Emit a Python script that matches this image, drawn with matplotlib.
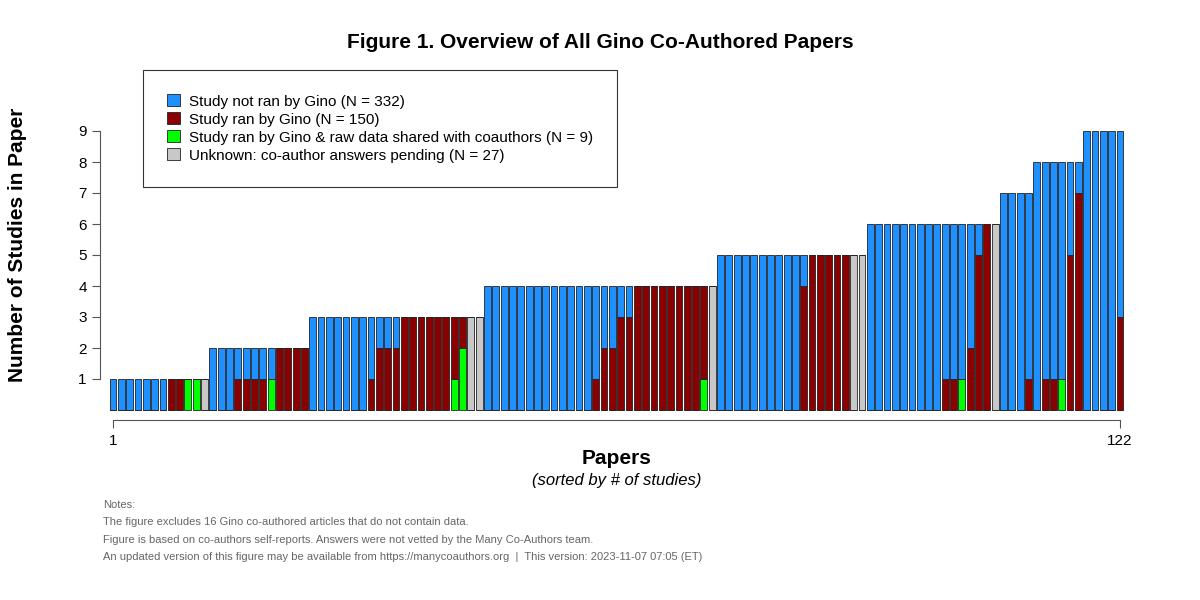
import matplotlib
matplotlib.use("Agg")
import matplotlib.pyplot as plt
import numpy as np

plt.rcParams["font.family"] = "Liberation Sans"

# per-paper study counts (122 papers, sorted by # of studies)
green = [0,0,0,0,0,0,0,0,0,1,1,0,
         0,0,0,0,0,0,0,1,0,0,0,0,
         0,0,0,0,0,0,0,0,0,0,0,0,0,0,0,0,0,1,2,0,0,
         0,0,0,0,0,0,0,0,0,0,0,0,0,0,0,0,0,0,0,0,0,0,0,0,0,0,1,0,
         0,0,0,0,0,0,0,0,0,0,0,0,0,0,0,0,0,0,
         0,0,0,0,0,0,0,0,0,0,0,1,0,0,0,0,
         0,0,0,0,
         0,0,0,1,0,0,
         0,0,0,0,0]
red = [0,0,0,0,0,0,0,1,1,0,0,0,
       0,0,0,1,1,1,1,0,2,2,2,2,
       0,0,0,0,0,0,0,1,2,2,2,3,3,3,3,3,3,2,1,0,0,
       0,0,0,0,0,0,0,0,0,0,0,0,0,1,2,2,3,3,4,4,4,4,4,4,4,4,3,0,
       0,0,0,0,0,0,0,0,0,0,4,5,5,5,5,5,0,0,
       0,0,0,0,0,0,0,0,0,1,1,0,2,5,6,0,
       0,0,0,1,
       0,1,1,0,5,7,
       0,0,0,0,3]
blue = [1,1,1,1,1,1,1,0,0,0,0,0,
        2,2,2,1,1,1,1,1,0,0,0,0,
        3,3,3,3,3,3,3,2,1,1,1,0,0,0,0,0,0,0,0,0,0,
        4,4,4,4,4,4,4,4,4,4,4,4,4,3,2,2,1,1,0,0,0,0,0,0,0,0,0,0,
        5,5,5,5,5,5,5,5,5,5,1,0,0,0,0,0,0,0,
        6,6,6,6,6,6,6,6,6,5,5,5,4,1,0,0,
        7,7,7,6,
        8,7,7,7,3,1,
        9,9,9,9,6]
gray = [0,0,0,0,0,0,0,0,0,0,0,1,
        0,0,0,0,0,0,0,0,0,0,0,0,
        0,0,0,0,0,0,0,0,0,0,0,0,0,0,0,0,0,0,0,3,3,
        0,0,0,0,0,0,0,0,0,0,0,0,0,0,0,0,0,0,0,0,0,0,0,0,0,0,0,4,
        0,0,0,0,0,0,0,0,0,0,0,0,0,0,0,0,5,5,
        0,0,0,0,0,0,0,0,0,0,0,0,0,0,0,6,
        0,0,0,0,
        0,0,0,0,0,0,
        0,0,0,0,0]
legend_labels = ["Study not ran by Gino (N = 332)",
                 "Study ran by Gino (N = 150)",
                 "Study ran by Gino & raw data shared with coauthors (N = 9)",
                 "Unknown: co-author answers pending (N = 27)"]
colors = ["#1E90FF", "#8B0000", "#00FF00", "#C8C8C8"]

green = np.array(green); red = np.array(red); blue = np.array(blue); gray = np.array(gray)
x = np.arange(1, len(blue) + 1)

fig = plt.figure(figsize=(12, 6), dpi=100)
ax = fig.add_axes([100/1200, 1 - 430/600, 1030/1200, 310/600])
kw = dict(width=0.82, edgecolor="#222222", linewidth=0.6)
ax.bar(x, green, color=colors[2], **kw)
ax.bar(x, red, bottom=green, color=colors[1], **kw)
ax.bar(x, gray, bottom=green + red, color=colors[3], **kw)
ax.bar(x, blue, bottom=green + red + gray, color=colors[0], **kw)

ax.set_xlim(1 - 13/8.322, 122 + 10/8.322)
ax.set_ylim(-20/31, 290/31)
for s in ["top", "right"]:
    ax.spines[s].set_visible(False)
ax.spines["left"].set_bounds(1, 9)
ax.spines["left"].set_color("#555555")
ax.spines["bottom"].set_bounds(1, 122)
ax.spines["bottom"].set_position(("data", -0.32))
ax.spines["bottom"].set_color("#555555")
ax.set_yticks(range(1, 10))
ax.set_xticks([1, 122])
ax.tick_params(labelsize=11, color="#555555", length=6)
ax.tick_params(axis="x", pad=4)

handles = [plt.Rectangle((0, 0), 1, 1, facecolor=c, edgecolor="#222222", linewidth=0.6) for c in colors]
leg = fig.legend(handles, legend_labels, loc="upper left", bbox_to_anchor=(143/1200, 1 - 70/600),
                 fontsize=11, frameon=True, fancybox=False, edgecolor="black",
                 handlelength=0.8, handleheight=0.8, handletextpad=0.6, borderpad=1.6,
                 labelspacing=0.25, borderaxespad=0)
leg.get_frame().set_linewidth(0.8)

fig.text(0.5, 1 - 43/600, "Figure 1. Overview of All Gino Co-Authored Papers", ha="center", va="center",
         fontsize=15, fontweight="bold")
fig.text(18/1200, 1 - 245/600, "Number of Studies in Paper", rotation=90, ha="center", va="center",
         fontsize=15, fontweight="bold")
fig.text(617/1200, 1 - 459/600, "Papers", ha="center", va="center", fontsize=15, fontweight="bold")
fig.text(617/1200, 1 - 481/600, "(sorted by # of studies)", ha="center", va="center", fontsize=12, style="italic")
notes = ["Notes:",
         "The figure excludes 16 Gino co-authored articles that do not contain data.",
         "Figure is based on co-authors self-reports. Answers were not vetted by the Many Co-Authors team.",
         "An updated version of this figure may be available from https://manycoauthors.org  |  This version: 2023-11-07 07:05 (ET)"]
for i, n in enumerate(notes):
    fig.text(103/1200, 1 - (505 + 17.3*i)/600, n, ha="left", va="center", fontsize=8, color="#666666")

fig.savefig("out.png", dpi=100)
